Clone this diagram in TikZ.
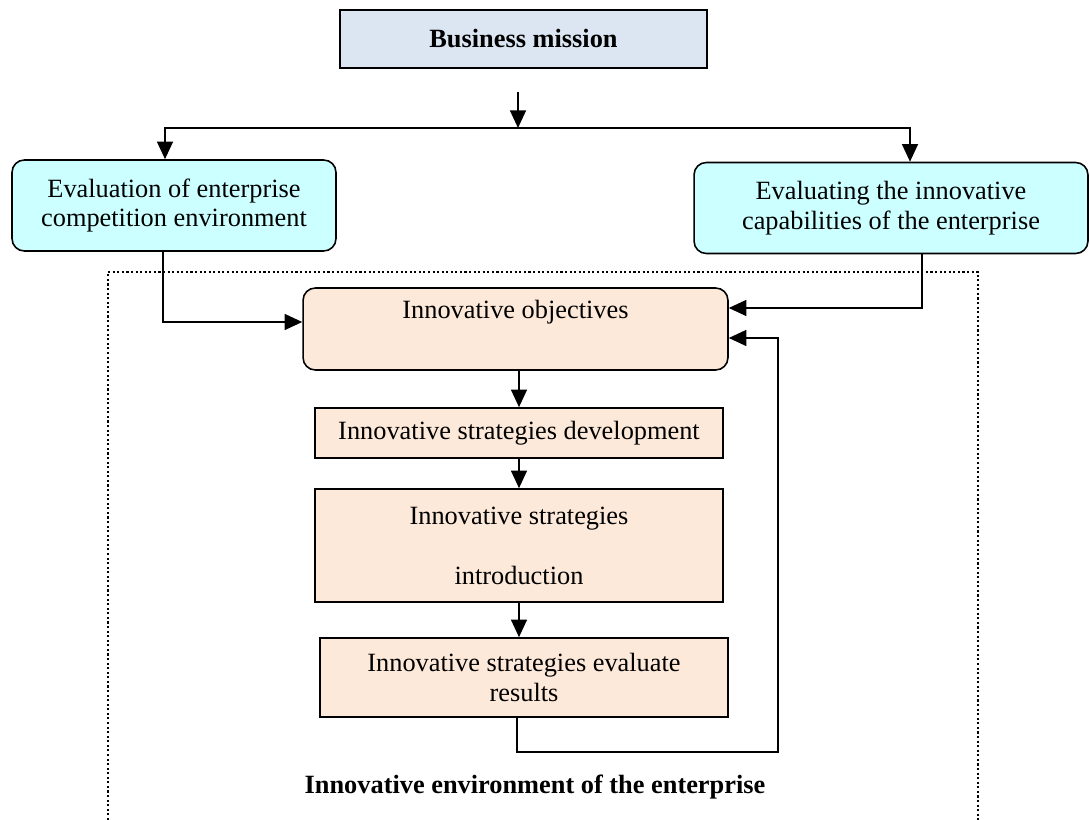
\documentclass[tikz,border=0pt]{standalone}
\usepackage{fontspec}
\setmainfont{Liberation Serif}
\usetikzlibrary{arrows.meta,positioning,calc}
\definecolor{mblue}{HTML}{DCE6F2}
\definecolor{mcyan}{HTML}{CCFFFF}
\definecolor{mpeach}{HTML}{FDE9D9}

\begin{document}
\begin{tikzpicture}[x=0.02cm,y=-0.02cm,
		every node/.style={font=\fontsize{15}{17}\selectfont,align=center,inner sep=0pt},
		topnode/.style={draw,line width=0.9pt,fill=mblue,minimum width=7.34cm,minimum height=1.16cm},
		evalnode/.style={draw,line width=0.9pt,fill=mcyan,rounded corners=7pt,minimum height=1.82cm},
		stepnode/.style={draw,line width=0.9pt,fill=mpeach,minimum width=8.16cm},
		>={Triangle[length=10pt,width=9pt]},
		link/.style={->,line width=1.1pt}
	]
	\useasboundingbox (0,0) rectangle (1090,820);

	% the environment frame
	\draw[dash pattern=on 1.2pt off 1.4pt,line width=1.3pt] (108,820) |- (978,272) -- (978,820);

	% the mission
	\node[topnode] (mission) at (523.5,39) {\bfseries Business mission};

	% the evaluations
	\node[evalnode,minimum width=6.48cm] (compet) at (174,205.5) {Evaluation of enterprise\\competition environment};
	\node[evalnode,minimum width=7.88cm] (capab) at (891,208) {Evaluating the innovative\\capabilities of the enterprise};

	% the strategy steps
	\node[stepnode,rounded corners=7pt,minimum width=8.5cm,minimum height=1.64cm] (objectives) at (515.5,329) {Innovative objectives\\\strut};
	\node[stepnode,minimum height=1cm] (develop) at (519,433) {Innovative strategies development};
	\node[stepnode,minimum height=2.26cm] (intro) at (519,545.5) {Innovative strategies\\[0.6cm]introduction};
	\node[stepnode,minimum height=1.58cm] (results) at (524,677.5) {Innovative strategies evaluate\\results};

	% the frame label
	\node (envlabel) at (535,787) {\bfseries Innovative environment of the enterprise};

	% the edges
	\coordinate (stem) at (518,92);
	\coordinate (split) at (518,128);
	\coordinate (loop) at (778,752);
	\draw[link] (stem) -- (split);
	\draw[link] (split) -| ($(compet.north)+(-9,0)$);
	\draw[link] (split) -| ($(capab.north)+(19,0)$);
	\draw[link] ($(compet.south)+(-11,0)$) |- ($(objectives.west)+(0,-7)$);
	\draw[link] ($(capab.south)+(31,0)$) |- ($(objectives.east)+(0,-21)$);
	\draw[link] (objectives.south -| develop) -- (develop.north);
	\draw[link] (develop.south) -- (intro.north);
	\draw[link] (intro.south) -- (intro.south |- results.north);
	\draw[link] ($(results.south)+(-7,0)$) |- (loop) |- ($(objectives.east)+(0,9)$);
\end{tikzpicture}
\end{document}
